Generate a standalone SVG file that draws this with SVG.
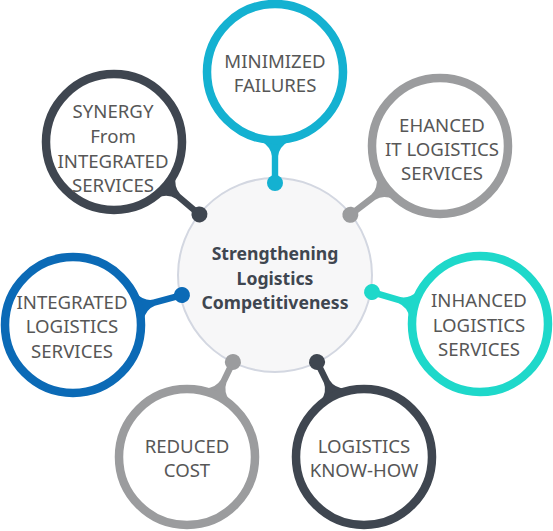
<svg xmlns="http://www.w3.org/2000/svg" width="553" height="531" viewBox="0 0 553 531">
<style>
.ring{fill:#fff;stroke-width:8.5}
.lbl{font-family:"Noto Sans","Liberation Sans",sans-serif;font-size:18.6px;fill:#575757;text-anchor:middle}
.ctr{font-family:"Noto Sans","Liberation Sans",sans-serif;font-size:17.6px;font-weight:bold;fill:#3f4650;text-anchor:middle}
.cyan{stroke:#14b1d1;fill:#14b1d1}
.dark{stroke:#3f4650;fill:#3f4650}
.gray{stroke:#9b9c9e;fill:#9b9c9e}
.blue{stroke:#0b6ab6;fill:#0b6ab6}
.turq{stroke:#1ed8ca;fill:#1ed8ca}
.nk{stroke:none}
</style>
<defs>
<path id="neck" d="M 64 -14 L 69 -14 Q 75 -4 84 -3.2 L 108 -3.2 L 108 3.2 L 84 3.2 Q 75 4 69 14 L 64 14 Z"/>
</defs>
<g id="center">
<circle cx="275" cy="275" r="97" fill="#f7f7f8" stroke="#d3d7e1" stroke-width="2"/>
<text class="ctr" x="275" y="260">Strengthening</text>
<text class="ctr" x="275" y="285">Logistics</text>
<text class="ctr" x="275" y="309">Competitiveness</text>
</g>
<g id="connectors">
<g class="cyan nk" transform="translate(275,72) rotate(90)"><use href="#neck"/><circle cx="111" cy="0" r="8"/></g>
<g class="dark nk" transform="translate(114,142) rotate(40.3)"><use href="#neck"/><circle cx="112" cy="0" r="8"/></g>
<g class="gray nk" transform="translate(440,146) rotate(142.5)"><use href="#neck"/><circle cx="113" cy="0" r="8"/></g>
<g class="blue nk" transform="translate(73,325) rotate(-15.4)"><use href="#neck"/><circle cx="113" cy="0" r="8"/></g>
<g class="turq nk" transform="translate(480,324) rotate(196.5)"><use href="#neck"/><circle cx="112.6" cy="0" r="8"/></g>
<g class="gray nk" transform="translate(187,457) rotate(-64.2)"><use href="#neck"/><circle cx="105.5" cy="0" r="8"/></g>
<g class="dark nk" transform="translate(364,457) rotate(-116.3)"><use href="#neck"/><circle cx="106" cy="0" r="8"/></g>
</g>
<g id="n-minimized">
<circle class="ring" cx="275" cy="72" r="68" stroke="#14b1d1"/>
<text class="lbl" x="275" y="68">MINIMIZED</text>
<text class="lbl" x="275" y="92">FAILURES</text>
</g>
<g id="n-synergy">
<circle class="ring" cx="114" cy="142" r="68" stroke="#3f4650"/>
<text class="lbl" x="113" y="118">SYNERGY</text>
<text class="lbl" x="113" y="143">From</text>
<text class="lbl" x="113" y="168">INTEGRATED</text>
<text class="lbl" x="113" y="192">SERVICES</text>
</g>
<g id="n-ehanced">
<circle class="ring" cx="440" cy="146" r="68" stroke="#9b9c9e"/>
<text class="lbl" x="442" y="132">EHANCED</text>
<text class="lbl" x="442" y="156">IT LOGISTICS</text>
<text class="lbl" x="442" y="180">SERVICES</text>
</g>
<g id="n-integrated">
<circle class="ring" cx="73" cy="325" r="68" stroke="#0b6ab6"/>
<text class="lbl" x="72" y="309">INTEGRATED</text>
<text class="lbl" x="72" y="333">LOGISTICS</text>
<text class="lbl" x="72" y="358">SERVICES</text>
</g>
<g id="n-inhanced">
<circle class="ring" cx="480" cy="324" r="68" stroke="#1ed8ca"/>
<text class="lbl" x="479" y="307">INHANCED</text>
<text class="lbl" x="479" y="332">LOGISTICS</text>
<text class="lbl" x="479" y="356">SERVICES</text>
</g>
<g id="n-reduced">
<circle class="ring" cx="187" cy="457" r="68" stroke="#9b9c9e"/>
<text class="lbl" x="187" y="453">REDUCED</text>
<text class="lbl" x="187" y="477">COST</text>
</g>
<g id="n-knowhow">
<circle class="ring" cx="364" cy="457" r="68" stroke="#3f4650"/>
<text class="lbl" x="364" y="453">LOGISTICS</text>
<text class="lbl" x="364" y="477">KNOW-HOW</text>
</g>
</svg>
